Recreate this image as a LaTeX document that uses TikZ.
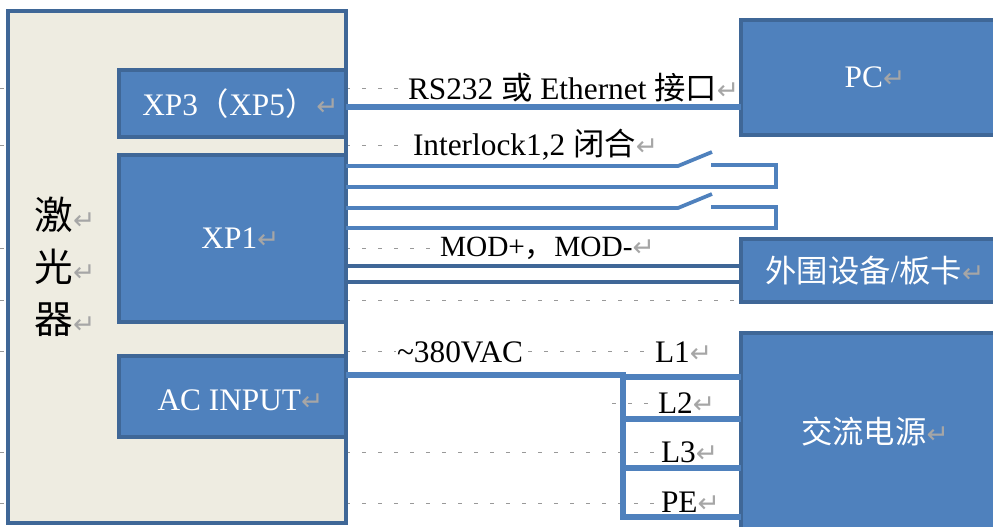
\documentclass[tikz,border=0pt]{standalone}
\usepackage{fontspec}
\setmainfont{Liberation Serif}
\newfontfamily\cjk{Noto Sans CJK SC}
\newfontfamily\symbfont{DejaVu Sans}
\definecolor{boxblue}{HTML}{4F81BD}
\definecolor{boxedge}{HTML}{3F6797}
\definecolor{shell}{HTML}{EEECE1}
\definecolor{retgray}{HTML}{A6A6A6}
\newcommand{\retmark}{{\symbfont\fontsize{20}{20}\selectfont\textcolor{retgray}{^^^^21b5}}}
\begin{document}
\begin{tikzpicture}[x=0.75pt,y=-0.75pt]
\tikzset{
  txt/.style={inner sep=0,outer sep=0,font=\fontsize{23.5}{27}\selectfont},
  shellbox/.style={draw=boxedge,fill=shell,line width=3pt,inner sep=0,outer sep=0},
  bluebox/.style={draw=boxedge,fill=boxblue,line width=2.4pt,inner sep=0,outer sep=0,text=white,font=\fontsize{23.5}{27}\selectfont},
  portbox/.style={bluebox,execute at begin node={\hspace*{12pt}}},
  wire/.style={draw=boxblue,line width=3.8pt},
  thinwire/.style={draw=boxblue,line width=2.8pt},
  modwire/.style={draw=boxedge,line width=3pt},
  grid/.style={draw=black!40,line width=0.7pt,dash pattern=on 3pt off 9pt},
}
\useasboundingbox (0,0) rectangle (993,527);
% grid marks behind the picture
\foreach \y/\xa/\xb in {88/346/405,145/346/410,248/346/438,300/346/741,351/346/396,351/528/654,403/612/656,452/346/660,503/346/660}{
    \draw[grid] (\xa,\y) -- (\xb,\y);
}
\foreach \y in {88,145,248,300,351,452,503}{
    \draw[grid] (0,\y) -- (8,\y);
}
% laser
\node[shellbox,minimum width=253.5pt,minimum height=384pt] (laser) at (177,267) {};
\node[txt,align=center,font=\fontsize{29}{39}\selectfont] (laserlab) at (65,267) {{\cjk 激}\retmark\\{\cjk 光}\retmark\\{\cjk 器}\retmark};
\node[portbox,minimum width=170.25pt,minimum height=50.25pt] (xp3) at (232.5,103.5) {XP3{\cjk （}XP5{\cjk ）}\retmark};
\node[portbox,minimum width=170.25pt,minimum height=125.25pt] (xp1) at (232.5,238.5) {XP1\retmark};
\node[portbox,minimum width=170.25pt,minimum height=60.75pt,text height=21pt] (acin) at (232.5,396.5) {AC INPUT\retmark};
% far side
\node[bluebox,minimum width=201pt,minimum height=86.25pt] (pc) at (875,77.5) {PC\retmark};
\node[bluebox,minimum width=201pt,minimum height=47.25pt] (periph) at (875,270.5) {{\cjk 外围设备}/{\cjk 板卡}\retmark};
\node[bluebox,minimum width=201pt,minimum height=147pt] (power) at (875,431) {{\cjk 交流电源}\retmark};
% serial line
\draw[wire] (xp3.east |- 0,107) -- (pc.west |- 0,107);
% interlock loops
\foreach \ya/\yb/\yc in {166/165/187,208/207/228}{
    \draw[thinwire] (xp1.east |- 0,\ya) -- (678,\ya) -- (712,\ya-14);
    \draw[thinwire] (711,\yb) -- (776,\yb) -- (776,\yc) -- (xp1.east |- 0,\yc);
}
% modulation pair
\foreach \y in {266,282}{
    \draw[modwire] (xp1.east |- 0,\y) -- (periph.west |- 0,\y);
}
% mains
\draw[wire] (acin.east |- 0,375) -- (623,375) -- (623,519.5);
\foreach \y in {377,419,468,517}{
    \draw[wire] (621,\y) -- (power.west |- 0,\y);
}
% labels
\foreach \n/\x/\y/\t in {
    rslab/408/88/{RS232 {\cjk 或} Ethernet {\cjk 接口}\retmark},
    ilab/413/145/{Interlock1,2 {\cjk 闭合}\retmark},
    modlab/440/248/{\fontsize{22}{27}\selectfont MOD+{\cjk ，}MOD-\retmark},
    aclab/397/352/{\textasciitilde380VAC},
    lalab/655/352/{L1\retmark},
    lblab/658/403/{L2\retmark},
    lclab/661/452/{L3\retmark},
    pelab/661/502/{PE\retmark}
}{
    \node[txt,anchor=west] (\n) at (\x,\y) {\t};
}
\end{tikzpicture}
\end{document}
